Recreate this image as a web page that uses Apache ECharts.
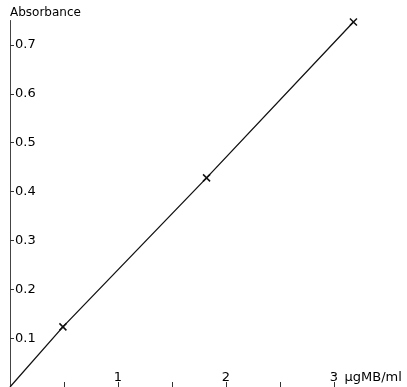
<!DOCTYPE html>
<html>
<head>
<meta charset="utf-8">
<script src="https://cdn.jsdelivr.net/npm/echarts@6/dist/echarts.min.js"></script>
<style>
html,body{margin:0;padding:0;background:#fff;}
#chart{width:407px;height:387px;}
</style>
</head>
<body>
<div id="chart"></div>
<script>
// concentration (µg MB/ml)
const concentration = [0, 0.49, 1.82, 3.18];
// absorbance
const absorbance = [0, 0.123, 0.428, 0.747];
const yTickLabels = ['0.1','0.2','0.3','0.4','0.5','0.6','0.7'];
const xTickLabels = ['1','2','3'];
const xTickValues = [0.5, 1, 1.5, 2, 2.5, 3];
const yTitle = 'Absorbance';
const xUnit = 'µgMB/ml';

const seriesData = concentration.map((x, i) => {
  const item = { value: [x, absorbance[i]] };
  if (i === 0) item.symbol = 'none';
  return item;
});

const chart = echarts.init(document.getElementById('chart'), null, {renderer: 'canvas'});
const font = 'DejaVu Sans';
chart.setOption({
  backgroundColor: '#ffffff',
  animation: false,
  grid: { left: 10, right: 8.2, top: 20.5, bottom: 0, containLabel: false },
  xAxis: {
    type: 'value', min: 0, max: 3.6, interval: 0.5,
    axisLine: { show: false },
    axisTick: { show: true, inside: true, length: 5, customValues: xTickValues, lineStyle: { color: '#333', width: 1 } },
    splitLine: { show: false },
    axisLabel: {
      inside: true, margin: 3, color: '#000', fontFamily: font, fontSize: 13,
      verticalAlign: 'bottom',
      customValues: xTickLabels.map(Number),
      formatter: v => String(v)
    },
    name: xUnit, nameLocation: 'end', nameGap: 3,
    nameTextStyle: { color: '#000', fontFamily: font, fontSize: 13, align: 'right', verticalAlign: 'bottom', padding: [0, 0, 3, 0] }
  },
  yAxis: {
    type: 'value', min: 0, max: 0.75, interval: 0.1,
    axisLine: { show: true, lineStyle: { color: '#444', width: 1 } },
    axisTick: { show: true, inside: true, length: 4, lineStyle: { color: '#333', width: 1 } },
    splitLine: { show: false },
    axisLabel: {
      inside: true, margin: 5, color: '#000', fontFamily: font, fontSize: 13,
      showMaxLabel: false,
      formatter: v => {
        const s = (Math.round(v * 10) / 10).toFixed(1);
        return yTickLabels.includes(s) ? s : '';
      }
    },
    name: yTitle, nameLocation: 'end', nameGap: 2,
    nameTextStyle: { color: '#000', fontFamily: font, fontSize: 12, align: 'left', verticalAlign: 'bottom' }
  },
  series: [{
    type: 'line',
    data: seriesData,
    clip: false,
    lineStyle: { color: '#111', width: 1.3 },
    symbol: 'path://M0,0L10,10M10,0L0,10',
    symbolSize: 7,
    itemStyle: { color: 'none', borderColor: '#111', borderWidth: 1.5 }
  }]
});
</script>
</body>
</html>
